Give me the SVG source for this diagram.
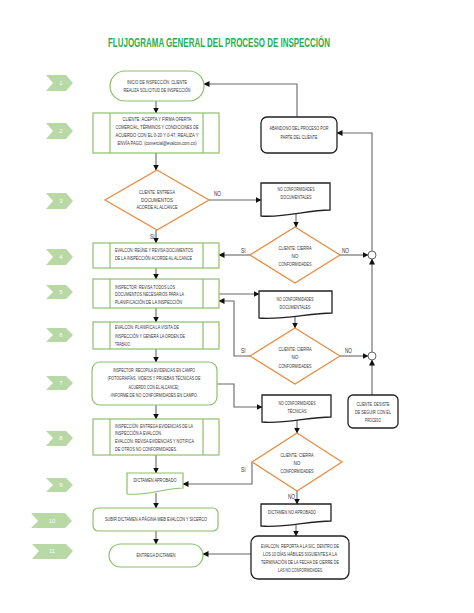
<svg xmlns="http://www.w3.org/2000/svg" width="474" height="613" viewBox="0 0 474 613">
<defs>
<marker id="ah" markerWidth="6" markerHeight="6" refX="5.5" refY="3" orient="auto" markerUnits="userSpaceOnUse">
<path d="M0,0 L6,3 L0,6 z" fill="#111"/>
</marker>
<style>
.t{font-family:"Liberation Sans Narrow","Liberation Sans",sans-serif;font-size:5.2px;fill:#333;}
.c{text-anchor:middle;}
.lb{font-family:"Liberation Sans Narrow","Liberation Sans",sans-serif;font-size:6.5px;fill:#333;}
.g{fill:#fff;stroke:#8cc06a;stroke-width:1.2;}
.o{fill:#fff;stroke:#e8893c;stroke-width:1.2;}
.k{fill:#fff;stroke:#222;stroke-width:1.3;}
.ch{fill:#b8d8a6;}
.n{font-family:"Liberation Sans",sans-serif;font-size:6px;fill:#fff;text-anchor:middle;}
.cn path{fill:none;stroke:#666;stroke-width:1.1;}
.cn .a{marker-end:url(#ah);}
</style>
</defs>
<rect width="474" height="613" fill="#fff"/>
<text x="219" y="47" style="font-family:'Liberation Sans Narrow','Liberation Sans',sans-serif;font-weight:bold;font-size:13px;fill:#27b04b;text-anchor:middle" textLength="222" lengthAdjust="spacingAndGlyphs">FLUJOGRAMA GENERAL DEL PROCESO DE INSPECCIÓN</text>

<g id="steps">
<path class="ch" d="M46,75 H66 L73,83 L66,91 H46 L53,83 Z"/><text class="n" x="61" y="85">1</text>
<path class="ch" d="M46,123 H66 L73,131 L66,139 H46 L53,131 Z"/><text class="n" x="61" y="133">2</text>
<path class="ch" d="M46,193 H66 L73,201 L66,209 H46 L53,201 Z"/><text class="n" x="61" y="203">3</text>
<path class="ch" d="M46,249 H66 L73,257 L66,265 H46 L53,257 Z"/><text class="n" x="61" y="259">4</text>
<path class="ch" d="M46,285 H66 L73,292 L66,299 H46 L53,292 Z"/><text class="n" x="61" y="294">5</text>
<path class="ch" d="M46,328 H66 L73,335 L66,342 H46 L53,335 Z"/><text class="n" x="61" y="337">6</text>
<path class="ch" d="M46,376 H66 L73,383 L66,390 H46 L53,383 Z"/><text class="n" x="61" y="385">7</text>
<path class="ch" d="M46,431 H66 L73,438 L66,446 H46 L53,438 Z"/><text class="n" x="61" y="440">8</text>
<path class="ch" d="M46,478 H66 L73,485 L66,492 H46 L53,485 Z"/><text class="n" x="61" y="487">9</text>
<path class="ch" d="M31,513 H65 L72,521 L65,528 H31 L38,521 Z"/><text class="n" x="52" y="523">10</text>
<path class="ch" d="M32,544 H66 L73,551 L66,559 H32 L39,551 Z"/><text class="n" x="52" y="553">11</text>
</g>

<g id="connectors" class="cn">
<path class="a" d="M156,101 V113"/>
<path class="a" d="M156,153 V170"/>
<path class="a" d="M209,200 H261"/>
<path class="a" d="M296,213 V227"/>
<path class="a" d="M156,230 V243"/>
<path class="a" d="M250,255 H219"/>
<path class="a" d="M340,255 H368"/>
<path class="a" d="M372,251 V133 H337"/>
<path class="a" d="M297,117 V84 H204"/>
<path class="a" d="M156,268 V279"/>
<path class="a" d="M219,294 H259"/>
<path class="a" d="M295,316 V328"/>
<path class="a" d="M250,356 H234 V301 H219"/>
<path class="a" d="M340,356 H368"/>
<path class="a" d="M372,352 V259"/>
<path class="a" d="M372,395 V360"/>
<path class="a" d="M156,308 V322"/>
<path class="a" d="M156,349 V362"/>
<path class="a" d="M217,384 H234 V407 H262"/>
<path class="a" d="M297,420 V433"/>
<path class="a" d="M156,405 V419"/>
<path class="a" d="M156,455 V473"/>
<path class="a" d="M252,462 V484 H183"/>
<path class="a" d="M297,491 V504"/>
<path class="a" d="M156,493 V508"/>
<path class="a" d="M156,531 V544"/>
<path class="a" d="M296,524 V536"/>
<path class="a" d="M251,554 H203"/>
<text class="lb" x="214" y="196" textLength="7" lengthAdjust="spacingAndGlyphs">NO</text>
<text class="lb" x="150" y="239" textLength="4.5" lengthAdjust="spacingAndGlyphs">SI</text>
<text class="lb" x="241" y="253" textLength="4.5" lengthAdjust="spacingAndGlyphs">SI</text>
<text class="lb" x="342" y="253" textLength="7" lengthAdjust="spacingAndGlyphs">NO</text>
<text class="lb" x="241" y="353" textLength="4.5" lengthAdjust="spacingAndGlyphs">SI</text>
<text class="lb" x="345" y="353" textLength="7" lengthAdjust="spacingAndGlyphs">NO</text>
<text class="lb" x="241" y="472" textLength="4.5" lengthAdjust="spacingAndGlyphs">SI</text>
<text class="lb" x="288" y="499" textLength="7" lengthAdjust="spacingAndGlyphs">NO</text>
</g>

<g id="n1">
<rect class="g" x="110" y="71" width="94" height="30" rx="15"/>
<text class="t c" x="157" y="84" textLength="60" lengthAdjust="spacingAndGlyphs">INICIO DE INSPECCIÓN. CLIENTE</text>
<text class="t c" x="157" y="92" textLength="67" lengthAdjust="spacingAndGlyphs">REALIZA SOLICITUD DE INSPECCIÓN</text>
</g>

<g id="n2">
<rect class="g" x="93" y="113" width="126" height="40"/>
<path class="g" d="M110,113 V153 M203,113 V153"/>
<text class="t c" x="157" y="121" textLength="69" lengthAdjust="spacingAndGlyphs">CLIENTE: ACEPTA Y FIRMA OFERTA</text>
<text class="t c" x="157" y="129" textLength="83" lengthAdjust="spacingAndGlyphs">COMERCIAL, TÉRMINOS Y CONDICIONES DE</text>
<text class="t c" x="157" y="137" textLength="83" lengthAdjust="spacingAndGlyphs">ACUERDO CON EL 0-20 Y 0-47, REALIZA Y</text>
<text class="t c" x="157" y="145" textLength="79" lengthAdjust="spacingAndGlyphs">ENVÍA PAGO. (comercial@evalcon.com.co)</text>
</g>

<g id="abandono">
<rect class="k" x="261" y="117" width="76" height="36" rx="6"/>
<text class="t c" x="299" y="130" textLength="59" lengthAdjust="spacingAndGlyphs">ABANDONO DEL PROCESO POR</text>
<text class="t c" x="299" y="139" textLength="37" lengthAdjust="spacingAndGlyphs">PARTE DEL CLIENTE</text>
</g>

<g id="d1">
<path class="o" d="M157,170 L209,200 L157,230 L105,200 Z"/>
<text class="t c" x="157" y="194" textLength="36" lengthAdjust="spacingAndGlyphs">CLIENTE: ENTREGA</text>
<text class="t c" x="157" y="202" textLength="32" lengthAdjust="spacingAndGlyphs">DOCUMENTOS</text>
<text class="t c" x="157" y="209" textLength="41" lengthAdjust="spacingAndGlyphs">ACORDE AL ALCANCE</text>
</g>

<g id="doc1">
<path class="k" d="M261,183 H330 V210 C307,210 285,218 261,216 Z"/>
<text class="t c" x="296" y="191" textLength="37" lengthAdjust="spacingAndGlyphs">NO CONFORMIDADES</text>
<text class="t c" x="296" y="199" textLength="31" lengthAdjust="spacingAndGlyphs">DOCUMENTALES</text>
</g>

<g id="d2">
<path class="o" d="M295,227 L340,255 L295,283 L250,255 Z"/>
<text class="t c" x="295" y="250" textLength="33" lengthAdjust="spacingAndGlyphs">CLIENTE: CIERRA</text>
<text class="t c" x="295" y="258" textLength="7" lengthAdjust="spacingAndGlyphs">NO</text>
<text class="t c" x="295" y="266" textLength="33" lengthAdjust="spacingAndGlyphs">CONFORMIDADES</text>
</g>

<g id="circle1"><circle cx="372" cy="255" r="4" fill="#fff" stroke="#666" stroke-width="1"/></g>
<g id="circle2"><circle cx="372" cy="356" r="4" fill="#fff" stroke="#666" stroke-width="1"/></g>

<g id="n4">
<rect class="g" x="93" y="243" width="126" height="25"/>
<path class="g" d="M110,243 V268 M203,243 V268"/>
<text class="t" x="115" y="252" textLength="78" lengthAdjust="spacingAndGlyphs">EVALCON: REÚNE Y REVISA DOCUMENTOS</text>
<text class="t" x="115" y="260" textLength="77" lengthAdjust="spacingAndGlyphs">DE LA INSPECCIÓN ACORDE AL ALCANCE</text>
</g>

<g id="n5">
<rect class="g" x="93" y="279" width="126" height="29"/>
<path class="g" d="M110,279 V308 M203,279 V308"/>
<text class="t" x="115" y="289" textLength="60" lengthAdjust="spacingAndGlyphs">INSPECTOR: REVISA TODOS LOS</text>
<text class="t" x="115" y="296" textLength="69" lengthAdjust="spacingAndGlyphs">DOCUMENTOS NECESARIOS PARA LA</text>
<text class="t" x="115" y="304" textLength="67" lengthAdjust="spacingAndGlyphs">PLANIFICACIÓN DE LA INSPECCIÓN</text>
</g>

<g id="doc2">
<path class="k" d="M259,291 H332 V313 C309,313 285,320 259,318 Z"/>
<text class="t c" x="295" y="301" textLength="37" lengthAdjust="spacingAndGlyphs">NO CONFORMIDADES</text>
<text class="t c" x="295" y="309" textLength="31" lengthAdjust="spacingAndGlyphs">DOCUMENTALES</text>
</g>

<g id="d3">
<path class="o" d="M295,328 L340,356 L295,384 L250,356 Z"/>
<text class="t c" x="295" y="351" textLength="33" lengthAdjust="spacingAndGlyphs">CLIENTE: CIERRA</text>
<text class="t c" x="295" y="359" textLength="7" lengthAdjust="spacingAndGlyphs">NO</text>
<text class="t c" x="295" y="368" textLength="33" lengthAdjust="spacingAndGlyphs">CONFORMIDADES</text>
</g>

<g id="n6">
<rect class="g" x="93" y="322" width="126" height="27"/>
<path class="g" d="M110,322 V349 M203,322 V349"/>
<text class="t" x="115" y="329" textLength="64" lengthAdjust="spacingAndGlyphs">EVALCON: PLANIFICA LA VISITA DE</text>
<text class="t" x="115" y="338" textLength="70" lengthAdjust="spacingAndGlyphs">INSPECCIÓN Y GENERA LA ORDEN DE</text>
<text class="t" x="115" y="346" textLength="15" lengthAdjust="spacingAndGlyphs">TRABAJO</text>
</g>

<g id="n7">
<rect class="g" x="92" y="362" width="125" height="43" rx="8"/>
<text class="t c" x="154" y="372" textLength="82" lengthAdjust="spacingAndGlyphs">INSPECTOR: RECOPILA EVIDENCIAS EN CAMPO</text>
<text class="t c" x="154" y="380" textLength="93" lengthAdjust="spacingAndGlyphs">(FOTOGRAFÍAS, VIDEOS Y PRUEBAS TÉCNICAS DE</text>
<text class="t c" x="154" y="389" textLength="51" lengthAdjust="spacingAndGlyphs">ACUERDO CON EL ALCANCE).</text>
<text class="t c" x="154" y="397" textLength="88" lengthAdjust="spacingAndGlyphs">-INFORME DE NO CONFORMIDADES EN CAMPO.</text>
</g>

<g id="doc3">
<path class="k" d="M262,395 H331 V417 C308,417 286,424 262,422 Z"/>
<text class="t c" x="297" y="405" textLength="37" lengthAdjust="spacingAndGlyphs">NO CONFORMIDADES</text>
<text class="t c" x="297" y="413" textLength="19" lengthAdjust="spacingAndGlyphs">TÉCNICAS</text>
</g>

<g id="desiste">
<rect class="k" x="348" y="395" width="50" height="33" rx="5"/>
<text class="t c" x="373" y="406" textLength="33" lengthAdjust="spacingAndGlyphs">CLIENTE: DESISTE</text>
<text class="t c" x="373" y="414" textLength="36" lengthAdjust="spacingAndGlyphs">DE SEGUIR CON EL</text>
<text class="t c" x="373" y="422" textLength="16" lengthAdjust="spacingAndGlyphs">PROCESO</text>
</g>

<g id="n8">
<rect class="g" x="93" y="419" width="126" height="36"/>
<path class="g" d="M110,419 V455 M203,419 V455"/>
<text class="t" x="115" y="428" textLength="78" lengthAdjust="spacingAndGlyphs">INSPECCIÓN: ENTREGA EVIDENCIAS DE LA</text>
<text class="t" x="115" y="435" textLength="47" lengthAdjust="spacingAndGlyphs">INSPECCIÓN A EVALCON.</text>
<text class="t" x="115" y="443" textLength="79" lengthAdjust="spacingAndGlyphs">EVALCON: REVISA EVIDENCIAS Y NOTIFICA</text>
<text class="t" x="115" y="451" textLength="62" lengthAdjust="spacingAndGlyphs">DE OTROS NO CONFORMIDADES.</text>
</g>

<g id="d4">
<path class="o" d="M297,433 L342,462 L297,491 L252,462 Z"/>
<text class="t c" x="297" y="457" textLength="33" lengthAdjust="spacingAndGlyphs">CLIENTE: CIERRA</text>
<text class="t c" x="297" y="465" textLength="7" lengthAdjust="spacingAndGlyphs">NO</text>
<text class="t c" x="297" y="473" textLength="33" lengthAdjust="spacingAndGlyphs">CONFORMIDADES</text>
</g>

<g id="n9">
<path class="g" d="M127,473 H183 V488 C165,488 148,496 127,494 Z"/>
<text class="t c" x="155" y="482" textLength="43" lengthAdjust="spacingAndGlyphs">DICTAMEN APROBADO</text>
</g>

<g id="docno">
<path class="k" d="M261,504 H331 V521 C308,521 286,528 261,526 Z"/>
<text class="t c" x="292" y="514" textLength="48" lengthAdjust="spacingAndGlyphs">DICTAMEN NO APROBADO</text>
</g>

<g id="n10">
<rect class="g" x="93" y="508" width="125" height="23" rx="5"/>
<text class="t c" x="156" y="521" textLength="102" lengthAdjust="spacingAndGlyphs">SUBIR DICTAMEN A PÁGINA WEB EVALCON Y SICERCO</text>
</g>

<g id="n11">
<rect class="g" x="109" y="544" width="94" height="23" rx="11.5"/>
<text class="t c" x="156" y="557" textLength="39" lengthAdjust="spacingAndGlyphs">ENTREGA DICTAMEN</text>
</g>

<g id="final">
<rect class="k" x="251" y="536" width="98" height="43" rx="7"/>
<text class="t c" x="300" y="548" textLength="78" lengthAdjust="spacingAndGlyphs">EVALCON: REPORTA A LA SIC, DENTRO DE</text>
<text class="t c" x="300" y="556" textLength="74" lengthAdjust="spacingAndGlyphs">LOS 10 DÍAS HÁBILES SIGUIENTES A LA</text>
<text class="t c" x="300" y="564" textLength="78" lengthAdjust="spacingAndGlyphs">TERMINACIÓN DE LA FECHA DE CIERRE DE</text>
<text class="t c" x="300" y="572" textLength="44" lengthAdjust="spacingAndGlyphs">LAS NO CONFORMIDADES</text>
</g>
</svg>
